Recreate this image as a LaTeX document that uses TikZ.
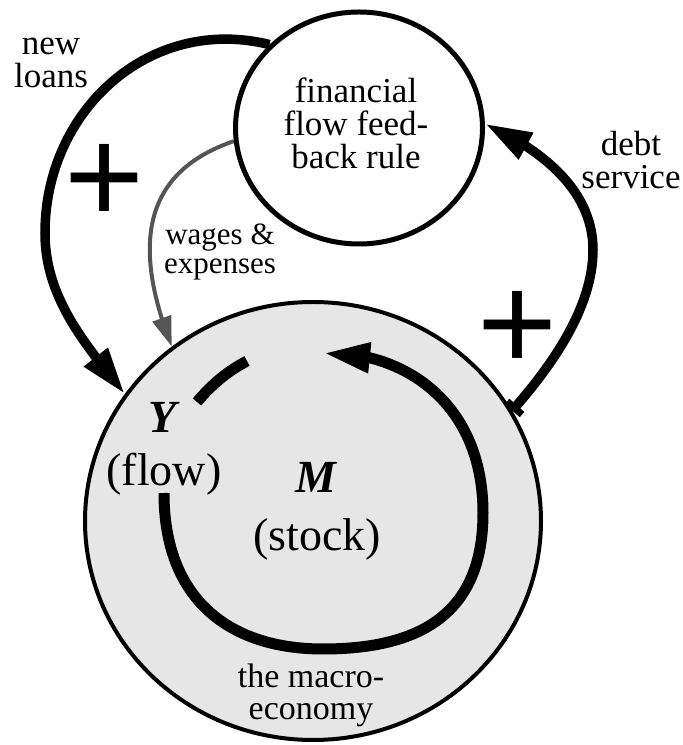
\documentclass[tikz,border=0pt]{standalone}
\usepackage{fontspec}
\setmainfont{Liberation Serif}
\newfontfamily\plusfont{Liberation Sans}
\usetikzlibrary{arrows.meta,bending,shapes.geometric}
\definecolor{wagegray}{RGB}{85,85,85}
\definecolor{econfill}{RGB}{230,230,230}
\pgfdeclarelayer{back}
\pgfdeclarelayer{mid}
\pgfsetlayers{back,mid,main}
\tikzset{
  fincircle/.style={draw, ellipse, line width=5pt, fill=white, minimum width=247pt, minimum height=232pt, inner sep=0pt},
  econcircle/.style={draw, ellipse, line width=4pt, fill=econfill, minimum width=456pt, minimum height=438pt, inner sep=0pt},
  lbl/.style={align=center, inner sep=0pt, font=\fontsize{35}{33}\selectfont},
  plussign/.style={anchor=base, inner sep=0pt, font=\plusfont\fontsize{137}{137}\selectfont},
  bigtip/.style={-{Triangle[length=47pt,width=28pt]}},
  bigflow/.style={line width=9.5pt},
  loopline/.style={line width=11pt},
  wageflow/.style={draw=wagegray, line width=4pt, -{Triangle[length=30pt,width=19pt]}},
}
\begin{document}
\begin{tikzpicture}[x=1pt,y=1pt]
\useasboundingbox (0,0) rectangle (683,745);
\begin{pgfonlayer}{back}
\node[econcircle] (econ) at (313,224) {};
\end{pgfonlayer}
\node[fincircle] (fin) at (359,617) {};
% inner loop of the macroeconomy
\draw[loopline, bigtip] (164,252) .. controls (164,145) and (230,96) .. (323,96)
  .. controls (425,96) and (483,135) .. (483,232)
  .. controls (483,345) and (400,395) .. (323,392);
\draw[loopline] (197,343) .. controls (212,361) and (228,374) .. (247,384);
% labels
\node[lbl] (newloans) at (51,682) {new\\loans};
\node[lbl] (fintext) at (356,622) {financial\\flow feed-\\back rule};
\node[lbl] (debttext) at (631,585) {debt\\service};
\node[lbl, font=\fontsize{31}{29}\selectfont] (wagetext) at (220,493) {wages \&\\expenses};
\node[lbl, font=\fontsize{46}{53}\selectfont] (ytext) at (164,296) {\textbf{\textit{Y}}\\(flow)};
\node[lbl, font=\fontsize{46}{58}\selectfont] (mtext) at (317,234) {\textbf{\textit{M}}\\(stock)};
\node[lbl, font=\fontsize{34}{32}\selectfont] (macrotext) at (311,50) {the macro-\\economy};
\node[plussign] (plusL) at (105,521.4) {+};
\node[plussign] (plusR) at (517,374.4) {+};
% connectors
\begin{pgfonlayer}{mid}
\draw[bigflow, bigtip] (fin.137) .. controls (150,730) and (45,635) .. (45,512)
  .. controls (45,445) and (88,398) .. (econ.146);
\draw[bigflow, {Bar[width=20pt,line width=7pt]}-{Triangle[length=47pt,width=28pt]}]
  (econ.29) .. controls (548,375) and (593,435) .. (593,495)
  .. controls (593,555) and (542,595) .. (fin.2);
\draw[wageflow] (fin.186) .. controls (150,575) and (128,510) .. (econ.129);
\end{pgfonlayer}
\end{tikzpicture}
\end{document}
